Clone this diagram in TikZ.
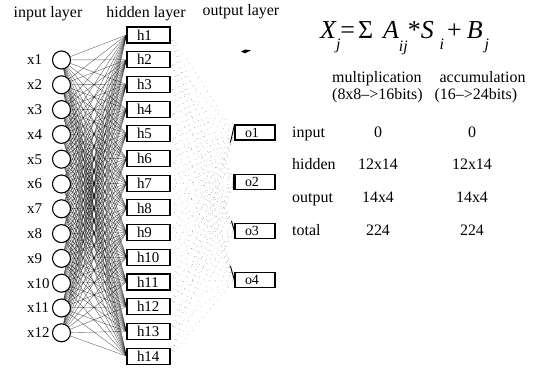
\documentclass[tikz,border=0pt]{standalone}
\usepackage{fontspec}
\setmainfont{Liberation Serif}
\usetikzlibrary{backgrounds}
\newcommand\subsz{\fontsize{16}{16}\selectfont}

\begin{document}
\begin{tikzpicture}[x=1bp, y=-1bp,
    unit/.style={draw, circle, fill=white, line width=1.1bp, minimum size=18bp, inner sep=0pt},
    hbox/.style={draw, fill=white, line width=1.1bp, text width=23bp, align=left, inner xsep=10bp, inner ysep=0pt, minimum height=16bp, font=\fontsize{15}{15}\selectfont},
    obox/.style={hbox, text width=20bp, minimum height=15bp, font=\fontsize{14}{14}\selectfont},
    link/.style={black, line width=0.4bp, opacity=0.6},
    faint/.style={black!45, line width=0.4bp, dash pattern=on 0.6bp off 5bp},
    stub/.style={line width=0.9bp},
    title/.style={anchor=base, font=\fontsize{16}{16}\selectfont},
    cell/.style={font=\fontsize{16}{16}\selectfont, text height=11bp, text depth=3bp, inner sep=0pt}
  ]
  \useasboundingbox (0,0) rectangle (537,371);

  \node[title] (tin) at (48,17) {input layer};
  \node[title] (thid) at (146,17) {hidden layer};
  \node[title] (tout) at (241,15) {output layer};

  \foreach \i in {1,...,12} {
    \node[unit] (x\i) at (61.5,{60+(\i-1)*24.8}) {};
    \node[anchor=west, inner sep=0pt, font=\fontsize{15}{15}\selectfont] (lx\i) at (27,{60+(\i-1)*24.8}) {x\i};
  }
  \foreach \j in {1,...,14}
    \node[hbox] (h\j) at (148.5,{35+(\j-1)*24.7}) {h\j};
  \foreach \k in {1,...,4}
    \node[obox] (o\k) at (255,{132.5+(\k-1)*49.2}) {o\k};

  % weights
  \begin{scope}[on background layer]
    \foreach \i in {1,...,12}
      \foreach \j in {1,...,14}
        \draw[link] (x\i) -- (h\j.west);
    \foreach \j in {1,...,14}
      \foreach \k in {1,...,4}
        \draw[faint] (h\j.east) -- (o\k.west);
  \end{scope}
  \draw[stub] (o1.north west) -- ++(-4,18);
  \draw[stub] ([xshift=-1.5bp]o2.north west) -- ([xshift=-1.5bp]o2.south west);
  \draw[stub] (o3.west) -- ++(-3,-10);
  \draw[stub] (o4.west) -- ++(-4,-14);

  \fill (241,51.5) -- (245,49.5) -- (251,50.3) -- (245,53.3) -- cycle;

  \node[anchor=base west, font=\fontsize{26}{26}\selectfont, inner sep=0pt] (eq) at (320,38)
    {\itshape X\raisebox{-11bp}{\subsz j}\upshape=\hspace{3bp}Σ\hspace{10bp}\itshape A\raisebox{-13bp}{\subsz ij}\upshape*\itshape S\hspace{6bp}\raisebox{-11bp}{\subsz i}\hspace{3bp}\upshape+\hspace{5bp}\itshape B\hspace{2bp}\raisebox{-11bp}{\subsz j}};
  \node[anchor=north west, align=left, inner sep=0pt, font=\fontsize{16}{17}\selectfont] (heads) at (332,71)
    {multiplication\hspace{14bp} accumulation\\(8x8{--}>16bits)\hspace{8bp} (16{--}>24bits)};

  \foreach \y/\what/\mul/\acc [count=\n] in {133/input/0/0, 165/hidden/12x14/12x14, 198/output/14x4/14x4, 231/total/224/224} {
    \node[cell, anchor=west] (row\n) at (292,\y) {\what};
    \node[cell] (mul\n) at (378,\y) {\mul};
    \node[cell] (acc\n) at (472,\y) {\acc};
  }
\end{tikzpicture}
\end{document}
